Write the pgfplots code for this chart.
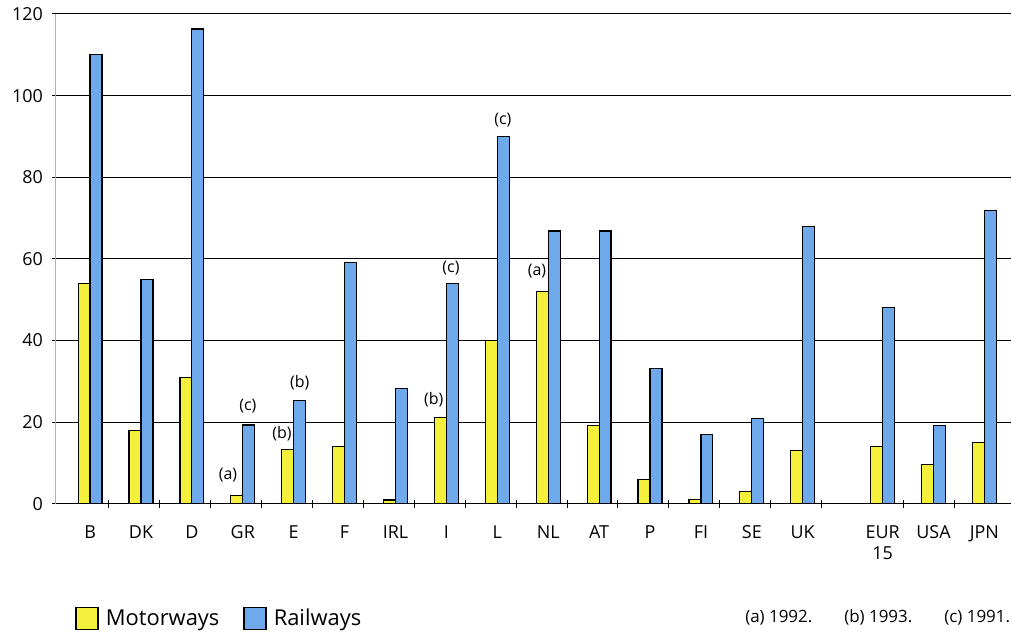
\documentclass[border=0pt]{standalone}
\usepackage{pgfplots}
\pgfplotsset{compat=1.18}
\usepackage{pgfplotstable}
\usetikzlibrary{calc}
\usepackage{fontspec}
\setmainfont{Open Sans}

\definecolor{motor}{RGB}{245,240,60}
\definecolor{rail}{RGB}{110,170,235}

% x: category position, m: motorways, r: railways
\pgfplotstableread{
x     m     r
0     54    110
1     18    55
2     31    116.3
3     2     19.3
4     13.2  25.2
5     14.1  59.2
6     0.9   28.2
7     21.1  54
8     40    90
9     52    66.8
10    19.2  66.8
11    5.9   33.1
12    1.0   17
13    2.9   20.9
14    13.1  67.9
15.57 14    48
16.57 9.7   19.1
17.57 14.9  71.8
}\datatable

\begin{document}
\begin{tikzpicture}
\begin{axis}[
    scale only axis,
    width=478.5bp, height=245bp,
    xmin=-0.69, xmax=18.1,
    ymin=0, ymax=120,
    ytick={0,20,...,120},
    axis lines=left,
    axis line style={-},
    y axis line style={draw=gray!60, line width=0.4bp},
    x axis line style={line width=0.6bp},
    ymajorgrids=true,
    grid style={black, line width=0.5bp},
    xtick={0,...,14,15.57,16.57,17.57},
    xticklabels={B,DK,D,GR,E,F,IRL,I,L,NL,AT,P,FI,SE,UK,{EUR\\15},USA,JPN},
    minor xtick={0.37,1.37,...,14.37,15.98,16.98},
    major x tick style={draw=none},
    minor x tick style={black, line width=0.5bp},
    minor tick length=4bp,
    tick align=center,
    major y tick style={black, line width=0.5bp},
    major tick length=3bp,
    xticklabel style={align=center, font=\fontsize{9}{10.5}\selectfont, yshift=-6bp},
    yticklabel style={font=\fontsize{9}{10}\selectfont, xshift=-1bp},
    /pgf/number format/assume math mode=true,
    legend columns=2,
    legend style={draw=none, fill=none, at={(rel axis cs:0.021,-0.235)}, anchor=west,
        inner sep=0pt, font=\fontsize{11}{13}\selectfont,
        /tikz/every even column/.append style={column sep=10bp},
        /tikz/every odd column/.append style={column sep=1.5bp}},
    legend image code/.code={\draw[#1, line width=0.7bp] (0bp,-5.5bp) rectangle (11bp,5.5bp);},
    clip=false,
]
\addplot[ybar, bar width=0.235, bar shift=-0.1175, fill=motor, draw=black, line width=0.6bp]
    table[x=x, y=m] {\datatable};
\addplot[ybar, bar width=0.235, bar shift=0.1175, fill=rail, draw=black, line width=0.6bp]
    table[x=x, y=r] {\datatable};
\legend{Motorways, Railways}

\begin{scope}[every node/.style={font=\fontsize{8}{9}\selectfont, inner sep=0pt}]
\node at (axis cs:2.71,7.1) {(a)};
\node at (axis cs:3.10,24.0) {(c)};
\node at (axis cs:3.77,17.1) {(b)};
\node at (axis cs:4.12,29.6) {(b)};
\node at (axis cs:6.75,25.5) {(b)};
\node at (axis cs:7.09,57.8) {(c)};
\node at (axis cs:8.11,94.0) {(c)};
\node at (axis cs:8.78,57.1) {(a)};
\end{scope}
\coordinate (O) at (rel axis cs:0,0);
\end{axis}
\node[anchor=east, inner sep=0pt, font=\fontsize{8.5}{10}\selectfont]
    at ($(O)+(478bp,-57bp)$) {(a) 1992.\hspace{16bp}(b) 1993.\hspace{16bp}(c) 1991.};
\path (O) ++(-27.5bp,-66bp) rectangle ++(506bp,318bp);
\end{tikzpicture}
\end{document}
